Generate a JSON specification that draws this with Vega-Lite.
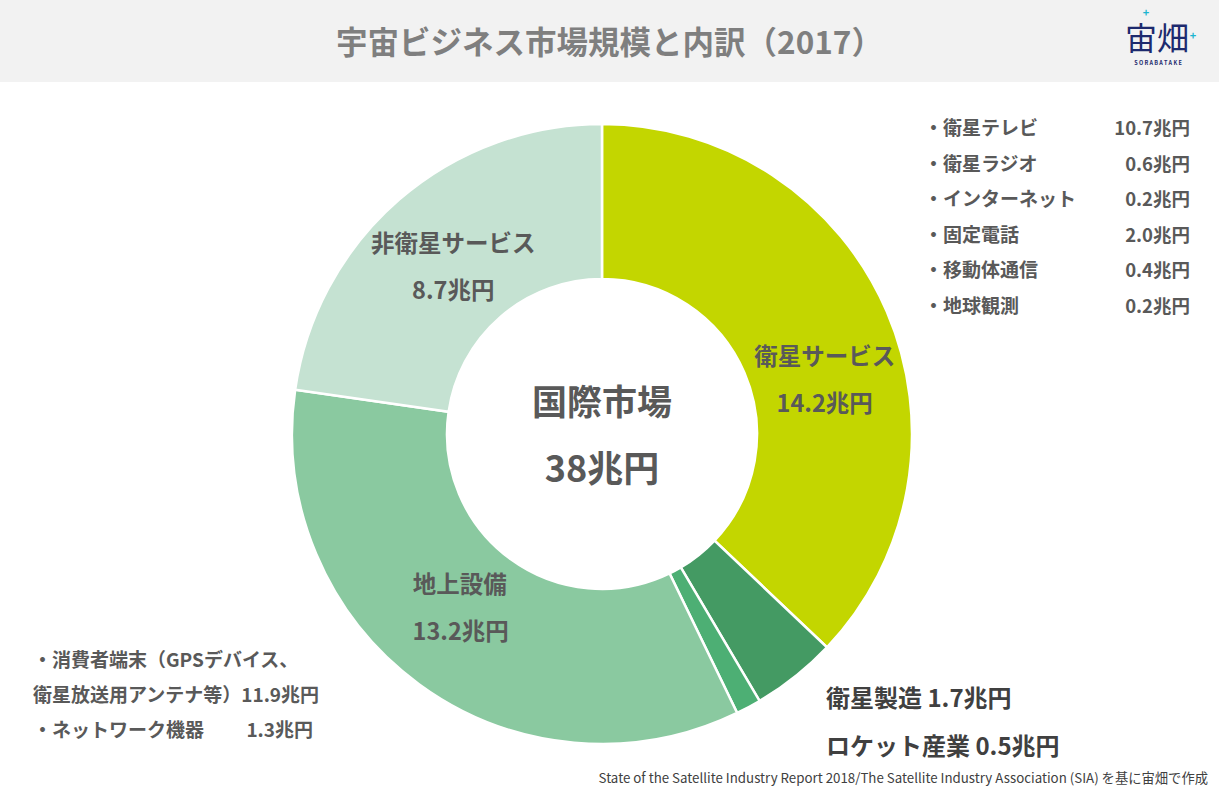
{
  "$schema": "https://vega.github.io/schema/vega-lite/v6.json",
  "width": 1219,
  "height": 714,
  "autosize": {"type": "none"},
  "padding": {"top": 82, "left": 0, "right": 0, "bottom": 0},
  "background": "#f2f2f2",
  "config": {
    "view": {"fill": "white", "stroke": null},
    "font": "Noto Sans CJK JP",
    "text": {"font": "Noto Sans CJK JP"}
  },
  "title": {
    "text": "宇宙ビジネス市場規模と内訳（2017）",
    "font": "Noto Sans CJK JP",
    "fontSize": 31.5,
    "fontWeight": "bold",
    "color": "#7f7f7f",
    "anchor": "middle",
    "offset": -52
  },
  "datasets": {
    "market": [
      {"segment": "衛星サービス", "value": 14.2, "amount": "14.2兆円", "order": 1, "place": "right"},
      {"segment": "衛星製造", "value": 1.7, "amount": "1.7兆円", "order": 2, "place": "outer"},
      {"segment": "ロケット産業", "value": 0.5, "amount": "0.5兆円", "order": 3, "place": "outer"},
      {"segment": "地上設備", "value": 13.2, "amount": "13.2兆円", "order": 4, "place": "lower"},
      {"segment": "非衛星サービス", "value": 8.7, "amount": "8.7兆円", "order": 5, "place": "upper"}
    ],
    "satellite_services": [
      {"item": "・衛星テレビ", "amount": "10.7兆円", "line": 0},
      {"item": "・衛星ラジオ", "amount": "0.6兆円", "line": 1},
      {"item": "・インターネット", "amount": "0.2兆円", "line": 2},
      {"item": "・固定電話", "amount": "2.0兆円", "line": 3},
      {"item": "・移動体通信", "amount": "0.4兆円", "line": 4},
      {"item": "・地球観測", "amount": "0.2兆円", "line": 5}
    ],
    "ground_equipment": [
      {"item": "・消費者端末（GPSデバイス、", "amount": "", "line": 0},
      {"item": "衛星放送用アンテナ等）11.9兆円", "amount": "", "line": 1},
      {"item": "・ネットワーク機器", "amount": "1.3兆円", "line": 2}
    ]
  },
  "layer": [
    {
      "data": {"name": "market"},
      "mark": {"type": "arc", "outerRadius": 310, "innerRadius": 155, "stroke": "white", "strokeWidth": 2.5, "xOffset": -7.5, "yOffset": -5},
      "encoding": {
        "theta": {"field": "value", "type": "quantitative", "stack": true},
        "order": {"field": "order", "type": "quantitative"},
        "color": {
          "field": "segment",
          "type": "nominal",
          "scale": {
            "domain": ["衛星サービス", "衛星製造", "ロケット産業", "地上設備", "非衛星サービス"],
            "range": ["#c3d600", "#449a63", "#4daf74", "#8ac9a0", "#c5e2d2"]
          },
          "legend": null
        }
      }
    },
    {
      "data": {"name": "market"},
      "encoding": {
        "theta": {"field": "value", "type": "quantitative", "stack": true},
        "order": {"field": "order", "type": "quantitative"}
      },
      "layer": [
        {
          "mark": {"type": "text", "radius": 225, "dx": -9, "dy": -24, "fontSize": 23.5, "fontWeight": "bold", "color": "#595959"},
          "encoding": {"text": {"condition": {"test": "datum.place === 'upper'", "field": "segment"}, "value": ""}}
        },
        {
          "mark": {"type": "text", "radius": 225, "dx": -9, "dy": 23, "fontSize": 23.5, "fontWeight": "bold", "color": "#595959"},
          "encoding": {"text": {"condition": {"test": "datum.place === 'upper'", "field": "amount"}, "value": ""}}
        },
        {
          "mark": {"type": "text", "radius": 225, "dx": -17, "dy": -35, "fontSize": 23.5, "fontWeight": "bold", "color": "#595959"},
          "encoding": {"text": {"condition": {"test": "datum.place === 'lower'", "field": "segment"}, "value": ""}}
        },
        {
          "mark": {"type": "text", "radius": 225, "dx": -16, "dy": 12, "fontSize": 23.5, "fontWeight": "bold", "color": "#595959"},
          "encoding": {"text": {"condition": {"test": "datum.place === 'lower'", "field": "amount"}, "value": ""}}
        },
        {
          "mark": {"type": "text", "radius": 225, "dx": 8.5, "dy": 8, "fontSize": 23.5, "fontWeight": "bold", "color": "#595959"},
          "encoding": {"text": {"condition": {"test": "datum.place === 'right'", "field": "segment"}, "value": ""}}
        },
        {
          "mark": {"type": "text", "radius": 225, "dx": 8.5, "dy": 55, "fontSize": 23.5, "fontWeight": "bold", "color": "#595959"},
          "encoding": {"text": {"condition": {"test": "datum.place === 'right'", "field": "amount"}, "value": ""}}
        }
      ]
    },
    {
      "data": {"values": [{"market": "国際市場", "total": "38兆円"}]},
      "layer": [
        {
          "mark": {"type": "text", "dx": -7.5, "dy": -35, "fontSize": 35, "fontWeight": "bold", "color": "#595959"},
          "encoding": {"text": {"field": "market"}}
        },
        {
          "mark": {"type": "text", "dx": -7.5, "dy": 32, "fontSize": 36, "fontWeight": "bold", "color": "#595959"},
          "encoding": {"text": {"field": "total"}}
        }
      ]
    },
    {
      "data": {"name": "satellite_services"},
      "encoding": {
        "y": {"field": "line", "type": "quantitative", "scale": {"domain": [0, 5], "range": [47, 225]}, "axis": null}
      },
      "layer": [
        {
          "mark": {"type": "text", "align": "left", "fontSize": 19, "fontWeight": "bold", "color": "#595959"},
          "encoding": {
            "x": {"datum": "item", "type": "nominal", "scale": {"type": "point", "domain": ["item", "amount"], "range": [924, 1190], "padding": 0}, "axis": null},
            "text": {"field": "item"}
          }
        },
        {
          "mark": {"type": "text", "align": "right", "fontSize": 18.5, "fontWeight": "bold", "color": "#595959"},
          "encoding": {
            "x": {"datum": "amount", "type": "nominal", "axis": null},
            "text": {"field": "amount"}
          }
        }
      ]
    },
    {
      "data": {"name": "ground_equipment"},
      "encoding": {
        "y": {"field": "line", "type": "quantitative", "scale": {"domain": [0, 2], "range": [579, 649]}, "axis": null}
      },
      "layer": [
        {
          "mark": {"type": "text", "align": "left", "fontSize": 19, "fontWeight": "bold", "color": "#595959"},
          "encoding": {
            "x": {"datum": "item", "type": "nominal", "scale": {"type": "point", "domain": ["item", "amount"], "range": [33, 313], "padding": 0}, "axis": null},
            "text": {"field": "item"}
          }
        },
        {
          "mark": {"type": "text", "align": "right", "fontSize": 19, "fontWeight": "bold", "color": "#595959"},
          "encoding": {
            "x": {"datum": "amount", "type": "nominal", "axis": null},
            "text": {"field": "amount"}
          }
        }
      ]
    },
    {
      "data": {"name": "market"},
      "transform": [
        {"filter": "datum.place === 'outer'"},
        {"calculate": "datum.segment + ' ' + datum.amount", "as": "callout"}
      ],
      "mark": {"type": "text", "align": "left", "fontSize": 24, "fontWeight": "bold", "color": "#404040"},
      "encoding": {
        "y": {"field": "order", "type": "quantitative", "scale": {"domain": [2, 3], "range": [618, 666]}, "axis": null},
        "x": {"datum": "callout", "type": "nominal", "scale": {"type": "point", "domain": ["callout"], "range": [826, 826]}, "axis": null},
        "text": {"field": "callout"}
      }
    },
    {
      "data": {"values": [{}]},
      "layer": [
        {"mark": {"type": "rule", "x": 796, "y": 599, "x2": 818, "y2": 621, "stroke": "#449a63", "strokeWidth": 1.5}, "encoding": {}},
        {"mark": {"type": "rule", "x": 752, "y": 630, "x2": 790, "y2": 668, "stroke": "#4daf74", "strokeWidth": 1.5}, "encoding": {}},
        {"mark": {"type": "rule", "x": 790, "y": 668, "x2": 815, "y2": 668, "stroke": "#4daf74", "strokeWidth": 1.5}, "encoding": {}},
        {"mark": {"type": "text", "x": 1208, "y": 697, "align": "right", "fontSize": 13.3, "color": "#404040", "text": "State of the Satellite Industry Report 2018/The Satellite Industry Association (SIA) を基に宙畑で作成"}, "encoding": {}},
        {"mark": {"type": "text", "x": 1157, "y": -42, "fontSize": 32, "color": "#1d2a6e", "text": "宙畑"}, "encoding": {}},
        {"mark": {"type": "text", "x": 1158, "y": -19, "fontSize": 5.5, "fontWeight": "bold", "color": "#1d2a6e", "text": "S O R A B A T A K E"}, "encoding": {}},
        {"mark": {"type": "text", "x": 1146, "y": -68, "fontSize": 11, "fontWeight": "bold", "color": "#1cb5d0", "text": "+"}, "encoding": {}},
        {"mark": {"type": "text", "x": 1193, "y": -45, "fontSize": 11, "fontWeight": "bold", "color": "#1cb5d0", "text": "+"}, "encoding": {}}
      ]
    }
  ],
  "resolve": {"scale": {"x": "independent", "y": "independent"}}
}
